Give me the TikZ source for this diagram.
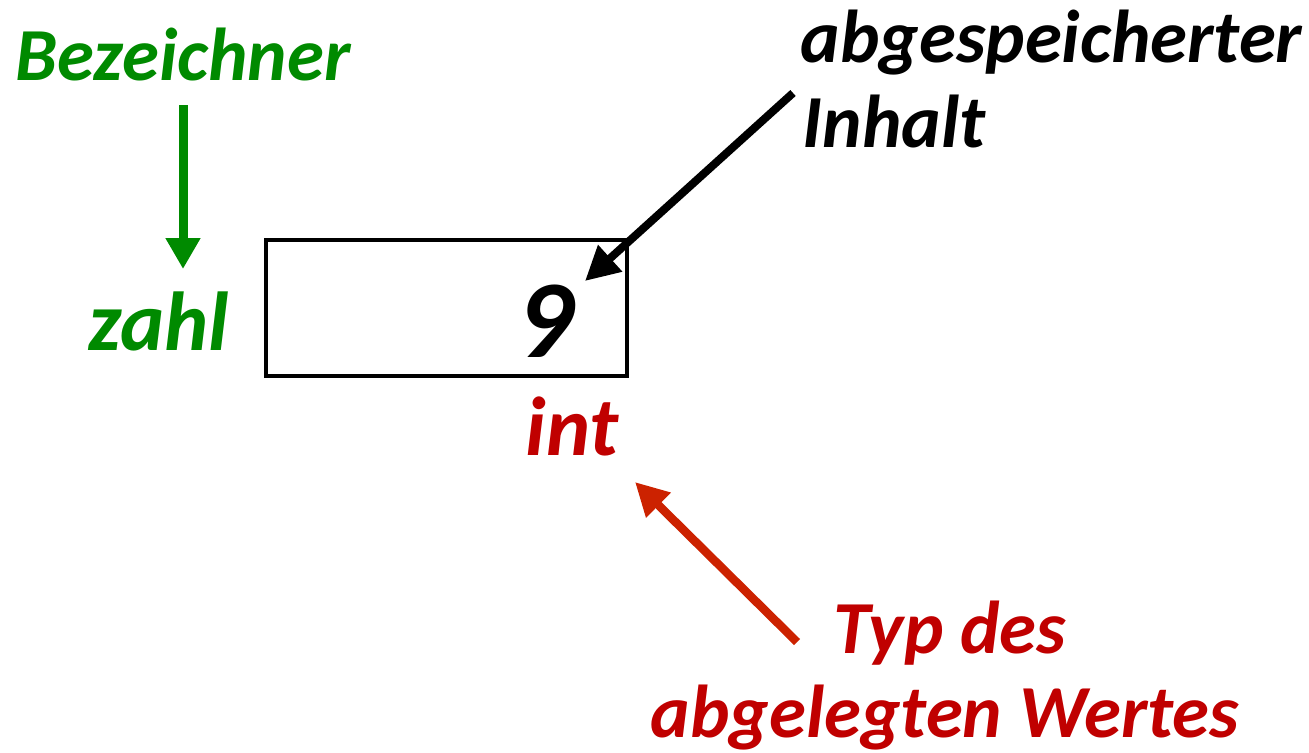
\documentclass[tikz,border=0pt]{standalone}
\usepackage{fontspec}
\setmainfont{Carlito}
\usetikzlibrary{arrows.meta}
\definecolor{bgreen}{RGB}{0,138,0}
\definecolor{tred}{RGB}{192,0,0}
\definecolor{ared}{RGB}{204,34,0}
\tikzset{
  lbl/.style={anchor=base west, inner sep=0pt, font=\fontsize{21.3}{25}\selectfont\bfseries\itshape},
  midl/.style={anchor=base west, inner sep=0pt, font=\fontsize{23.8}{28}\selectfont\bfseries\itshape},
  bigl/.style={anchor=base west, inner sep=0pt, font=\fontsize{31.5}{36}\selectfont\bfseries\itshape},
  garrow/.style={draw=bgreen, line width=0.09cm, -{Triangle[length=0.31cm,width=0.33cm]}, fill=bgreen},
  karrow/.style={draw=black, line width=0.08cm, -{Triangle[length=0.34cm,width=0.34cm]}},
  rarrow/.style={draw=ared, line width=0.085cm, -{Triangle[length=0.33cm,width=0.33cm]}},
  varbox/.style={draw=black, line width=0.04cm, minimum width=3.61cm, minimum height=1.36cm, inner sep=0pt}
}
\begin{document}
\begin{tikzpicture}
\useasboundingbox (0,0) rectangle (13.09,7.52);
\node[varbox] (box) at (4.465,4.445) {};
\node[lbl, text=bgreen] (bez) at (0.15,6.72) {Bezeichner};
\node[midl, text=bgreen] (zahl) at (0.88,4.02) {zahl};
\node[bigl, text=black] (nine) at (5.17,3.95) {9};
\node[lbl, text=black] (abg) at (8.00,6.90) {abgespeicherter};
\node[lbl, text=black] (inh) at (8.02,6.05) {Inhalt};
\node[midl, text=tred] (int) at (5.25,2.97) {int};
\node[lbl, text=tred] (typ) at (8.33,0.99) {Typ des};
\node[lbl, text=tred] (wert) at (6.50,0.15) {abgelegten Wertes};
\coordinate (gs) at (1.83,6.47);
\coordinate (ge) at (1.83,4.83);
\coordinate (ks) at (7.93,6.59);
\coordinate (ke) at (5.85,4.71);
\coordinate (rs) at (7.97,1.10);
\coordinate (re) at (6.35,2.70);
\draw[garrow] (gs) -- (ge);
\draw[karrow] (ks) -- (ke);
\draw[rarrow] (rs) -- (re);
\end{tikzpicture}
\end{document}
